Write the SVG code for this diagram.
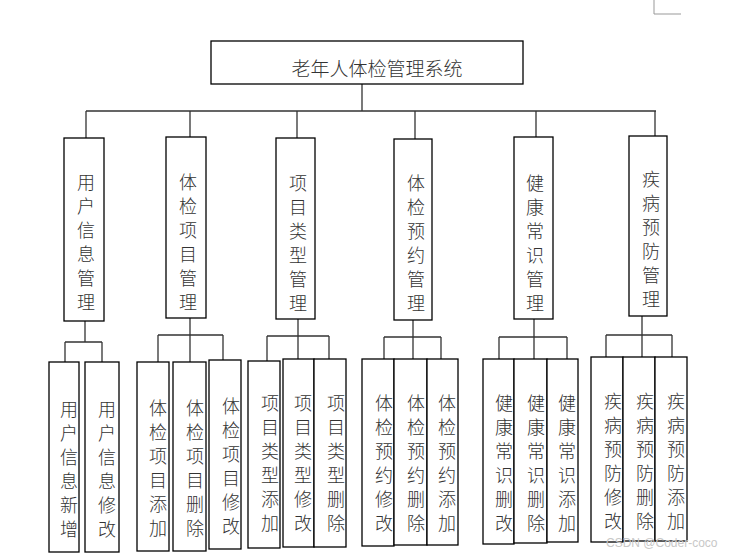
<svg xmlns="http://www.w3.org/2000/svg" width="732" height="556" viewBox="0 0 732 556">
<style>
.box{fill:#fff;stroke:#000;stroke-width:1.3}
.con{fill:none;stroke:#333;stroke-width:1.3}
.t{font-family:"Noto Sans CJK SC","Noto Sans",sans-serif;font-size:18px;font-weight:300;fill:#333;text-anchor:middle;dominant-baseline:central}
.title{font-size:19px}
.wm{font-family:"Liberation Sans",Arial,sans-serif;font-size:12px;fill:#c8c8c8}
</style>
<rect width="732" height="556" fill="#fff"/>
<path d="M654,0 V14 H681" fill="none" stroke="#999" stroke-width="1"/>
<g id="connectors">
<path class="con" d="M362,84 V111 M86,111 H656 M86,111 V138 M190,111 V137 M297,111 V138 M415,111 V139 M536,111 V137 M655,111 V136"/>
<path class="con" d="M85,321 V342 M65,342 H102 M65,342 V362 M102,342 V362"/>
<path class="con" d="M190,318 V362 M158,335 H223 M158,335 V362 M223,335 V360"/>
<path class="con" d="M298,319 V359 M267,336 H329 M267,336 V361 M329,336 V359"/>
<path class="con" d="M413,320 V359 M384,337 H441 M384,337 V359 M441,337 V359"/>
<path class="con" d="M534,319 V359 M499,337 H567 M499,337 V359 M567,337 V359"/>
<path class="con" d="M642,316 V357 M606,335 H672 M606,335 V357 M672,335 V357"/>
</g>
<g id="root"><rect class="box" x="211" y="41" width="312" height="43"/><text class="t title" x="377" y="67">老年人体检管理系统</text></g>
<g id="m1"><rect class="box" x="64" y="138" width="40" height="183"/><text class="t" x="86" y="181"><tspan x="86">用</tspan><tspan x="86" dy="24">户</tspan><tspan x="86" dy="24">信</tspan><tspan x="86" dy="24">息</tspan><tspan x="86" dy="24">管</tspan><tspan x="86" dy="24">理</tspan></text></g>
<g id="m2"><rect class="box" x="166" y="137" width="40" height="181"/><text class="t" x="188" y="181"><tspan x="188">体</tspan><tspan x="188" dy="24">检</tspan><tspan x="188" dy="24">项</tspan><tspan x="188" dy="24">目</tspan><tspan x="188" dy="24">管</tspan><tspan x="188" dy="24">理</tspan></text></g>
<g id="m3"><rect class="box" x="276" y="138" width="39" height="181"/><text class="t" x="298" y="182"><tspan x="298">项</tspan><tspan x="298" dy="24">目</tspan><tspan x="298" dy="24">类</tspan><tspan x="298" dy="24">型</tspan><tspan x="298" dy="24">管</tspan><tspan x="298" dy="24">理</tspan></text></g>
<g id="m4"><rect class="box" x="394" y="139" width="38" height="181"/><text class="t" x="416" y="182"><tspan x="416">体</tspan><tspan x="416" dy="24">检</tspan><tspan x="416" dy="24">预</tspan><tspan x="416" dy="24">约</tspan><tspan x="416" dy="24">管</tspan><tspan x="416" dy="24">理</tspan></text></g>
<g id="m5"><rect class="box" x="514" y="137" width="39" height="182"/><text class="t" x="535" y="182"><tspan x="535">健</tspan><tspan x="535" dy="24">康</tspan><tspan x="535" dy="24">常</tspan><tspan x="535" dy="24">识</tspan><tspan x="535" dy="24">管</tspan><tspan x="535" dy="24">理</tspan></text></g>
<g id="m6"><rect class="box" x="629" y="136" width="38" height="180"/><text class="t" x="651" y="178"><tspan x="651">疾</tspan><tspan x="651" dy="24">病</tspan><tspan x="651" dy="24">预</tspan><tspan x="651" dy="24">防</tspan><tspan x="651" dy="24">管</tspan><tspan x="651" dy="24">理</tspan></text></g>
<g id="l1"><rect class="box" x="49" y="362" width="30" height="190"/><text class="t" y="408"><tspan x="69">用</tspan><tspan x="69" dy="24">户</tspan><tspan x="69" dy="24">信</tspan><tspan x="69" dy="24">息</tspan><tspan x="69" dy="24">新</tspan><tspan x="69" dy="24">增</tspan></text></g>
<g id="l2"><rect class="box" x="85" y="362" width="34" height="190"/><text class="t" y="408"><tspan x="107">用</tspan><tspan x="107" dy="24">户</tspan><tspan x="107" dy="24">信</tspan><tspan x="107" dy="24">息</tspan><tspan x="107" dy="24">修</tspan><tspan x="107" dy="24">改</tspan></text></g>
<g id="l3"><rect class="box" x="137" y="362" width="32" height="189"/><text class="t" y="407"><tspan x="158">体</tspan><tspan x="158" dy="24">检</tspan><tspan x="158" dy="24">项</tspan><tspan x="158" dy="24">目</tspan><tspan x="158" dy="24">添</tspan><tspan x="158" dy="24">加</tspan></text></g>
<g id="l4"><rect class="box" x="173" y="362" width="33" height="189"/><text class="t" y="407"><tspan x="195">体</tspan><tspan x="195" dy="24">检</tspan><tspan x="195" dy="24">项</tspan><tspan x="195" dy="24">目</tspan><tspan x="195" dy="24">删</tspan><tspan x="195" dy="24">除</tspan></text></g>
<g id="l5"><rect class="box" x="209" y="360" width="32" height="189"/><text class="t" y="405"><tspan x="231">体</tspan><tspan x="231" dy="24">检</tspan><tspan x="231" dy="24">项</tspan><tspan x="231" dy="24">目</tspan><tspan x="231" dy="24">修</tspan><tspan x="231" dy="24">改</tspan></text></g>
<g id="l6"><rect class="box" x="248" y="361" width="32" height="187"/><text class="t" y="402"><tspan x="270">项</tspan><tspan x="270" dy="24">目</tspan><tspan x="270" dy="24">类</tspan><tspan x="270" dy="24">型</tspan><tspan x="270" dy="24">添</tspan><tspan x="270" dy="24">加</tspan></text></g>
<g id="l7"><rect class="box" x="283" y="359" width="31" height="188"/><text class="t" y="402"><tspan x="303">项</tspan><tspan x="303" dy="24">目</tspan><tspan x="303" dy="24">类</tspan><tspan x="303" dy="24">型</tspan><tspan x="303" dy="24">修</tspan><tspan x="303" dy="24">改</tspan></text></g>
<g id="l8"><rect class="box" x="314" y="359" width="32" height="188"/><text class="t" y="402"><tspan x="336">项</tspan><tspan x="336" dy="24">目</tspan><tspan x="336" dy="24">类</tspan><tspan x="336" dy="24">型</tspan><tspan x="336" dy="24">删</tspan><tspan x="336" dy="24">除</tspan></text></g>
<g id="l9"><rect class="box" x="362" y="359" width="32" height="187"/><text class="t" y="402"><tspan x="384">体</tspan><tspan x="384" dy="24">检</tspan><tspan x="384" dy="24">预</tspan><tspan x="384" dy="24">约</tspan><tspan x="384" dy="24">修</tspan><tspan x="384" dy="24">改</tspan></text></g>
<g id="l10"><rect class="box" x="394" y="359" width="33" height="186"/><text class="t" y="402"><tspan x="416">体</tspan><tspan x="416" dy="24">检</tspan><tspan x="416" dy="24">预</tspan><tspan x="416" dy="24">约</tspan><tspan x="416" dy="24">删</tspan><tspan x="416" dy="24">除</tspan></text></g>
<g id="l11"><rect class="box" x="427" y="359" width="31" height="186"/><text class="t" y="402"><tspan x="447">体</tspan><tspan x="447" dy="24">检</tspan><tspan x="447" dy="24">预</tspan><tspan x="447" dy="24">约</tspan><tspan x="447" dy="24">添</tspan><tspan x="447" dy="24">加</tspan></text></g>
<g id="l12"><rect class="box" x="483" y="359" width="31" height="185"/><text class="t" y="402"><tspan x="504">健</tspan><tspan x="504" dy="24">康</tspan><tspan x="504" dy="24">常</tspan><tspan x="504" dy="24">识</tspan><tspan x="504" dy="24">删</tspan><tspan x="504" dy="24">改</tspan></text></g>
<g id="l13"><rect class="box" x="514" y="359" width="33" height="184"/><text class="t" y="402"><tspan x="536">健</tspan><tspan x="536" dy="24">康</tspan><tspan x="536" dy="24">常</tspan><tspan x="536" dy="24">识</tspan><tspan x="536" dy="24">删</tspan><tspan x="536" dy="24">除</tspan></text></g>
<g id="l14"><rect class="box" x="547" y="359" width="31" height="183"/><text class="t" y="402"><tspan x="567">健</tspan><tspan x="567" dy="24">康</tspan><tspan x="567" dy="24">常</tspan><tspan x="567" dy="24">识</tspan><tspan x="567" dy="24">添</tspan><tspan x="567" dy="24">加</tspan></text></g>
<g id="l15"><rect class="box" x="591" y="357" width="32" height="185"/><text class="t" y="400"><tspan x="613">疾</tspan><tspan x="613" dy="24">病</tspan><tspan x="613" dy="24">预</tspan><tspan x="613" dy="24">防</tspan><tspan x="613" dy="24">修</tspan><tspan x="613" dy="24">改</tspan></text></g>
<g id="l16"><rect class="box" x="623" y="357" width="32" height="184"/><text class="t" y="400"><tspan x="645">疾</tspan><tspan x="645" dy="24">病</tspan><tspan x="645" dy="24">预</tspan><tspan x="645" dy="24">防</tspan><tspan x="645" dy="24">删</tspan><tspan x="645" dy="24">除</tspan></text></g>
<g id="l17"><rect class="box" x="655" y="357" width="32" height="184"/><text class="t" y="400"><tspan x="676">疾</tspan><tspan x="676" dy="24">病</tspan><tspan x="676" dy="24">预</tspan><tspan x="676" dy="24">防</tspan><tspan x="676" dy="24">添</tspan><tspan x="676" dy="24">加</tspan></text></g>
<text class="wm" x="606" y="547">CSDN @Coder-coco</text>
</svg>
